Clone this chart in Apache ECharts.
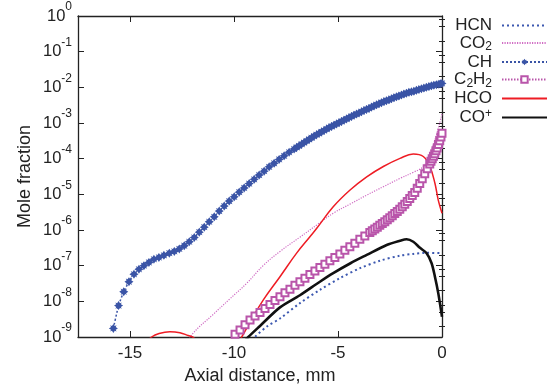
<!DOCTYPE html>
<html>
<head>
<meta charset="utf-8">
<script src="https://cdn.jsdelivr.net/npm/echarts@6/dist/echarts.min.js"></script>
<style>
html,body{margin:0;padding:0;background:#fff;}
#chart{width:548px;height:388px;}
</style>
</head>
<body>
<div id="chart"></div>
<script>
// ---------- data (x in mm, mole fraction) ----------
const seriesNames = ['HCN', 'CO2', 'CH', 'C2H2', 'HCO', 'CO+'];
const xTickValues = [-15, -10, -5, 0];

const hcnX = [-9.3, -9.0, -8.4, -7.79, -6.83, -5.87, -4.90, -3.94, -2.98, -2.02, -1.38, -0.74, 0];
const hcnY = [6.3e-10, 1.0e-9, 2.0e-9, 3.3e-9, 8.9e-9, 2.1e-8, 4.5e-8, 8.5e-8, 1.38e-7, 1.9e-7, 2.14e-7, 2.29e-7, 2.24e-7];

const co2X = [-12.3, -12.03, -11.0, -10.2, -9.39, -8.6, -7.79, -6.83, -6.0, -5.23, -4.4, -3.62, -2.8, -2.02, -1.4, -0.9, -0.6, -0.3, 0];
const co2Y = [5.0e-10, 1.15e-9, 4.3e-9, 1.17e-8, 3.2e-8, 1.0e-7, 2.5e-7, 6.3e-7, 1.41e-6, 2.95e-6, 5.4e-6, 9.5e-6, 1.66e-5, 2.8e-5, 4.1e-5, 6.0e-5, 1.26e-4, 4.0e-4, 1.78e-3];

const chX = [-15.80, -15.55, -15.30, -15.05, -14.81, -14.57, -14.33, -14.09, -13.85, -13.61, -13.37, -13.11,
  -12.87, -12.63, -12.39, -12.15, -11.91, -11.67, -11.43, -11.19, -10.95, -10.71, -10.47, -10.23,
  -9.99, -9.75, -9.51, -9.27, -9.03, -8.79, -8.55, -8.31, -8.07, -7.83, -7.59, -7.35,
  -7.11, -6.87, -6.63, -6.39, -6.15, -5.91, -5.67, -5.43, -5.19, -4.95, -4.71, -4.47, -4.23, -3.99,
  -3.75, -3.51, -3.27, -3.03, -2.79, -2.55, -2.31, -2.07, -1.83, -1.59, -1.35, -1.11, -0.87, -0.63,
  -0.39, -0.15, 0];
const chY = [1.74e-9, 7.6e-9, 1.86e-8, 3.55e-8, 5.75e-8, 7.94e-8, 1.0e-7, 1.23e-7, 1.51e-7, 1.70e-7, 1.95e-7, 2.24e-7,
  2.51e-7, 2.95e-7, 3.63e-7, 4.68e-7, 6.17e-7, 8.71e-7, 1.20e-6, 1.70e-6, 2.34e-6, 3.39e-6, 4.68e-6, 6.46e-6,
  8.51e-6, 1.15e-5, 1.51e-5, 2.0e-5, 2.63e-5, 3.47e-5, 4.47e-5, 5.89e-5, 7.41e-5, 9.55e-5, 1.20e-4, 1.51e-4,
  1.86e-4, 2.29e-4, 2.82e-4, 3.47e-4, 4.27e-4, 5.13e-4, 6.17e-4, 7.41e-4, 8.71e-4, 1.02e-3, 1.20e-3, 1.41e-3, 1.66e-3, 1.91e-3,
  2.24e-3, 2.57e-3, 3.02e-3, 3.47e-3, 3.98e-3, 4.47e-3, 5.13e-3, 5.75e-3, 6.46e-3, 7.24e-3, 7.76e-3, 8.71e-3, 9.55e-3, 1.05e-2,
  1.15e-2, 1.23e-2, 1.29e-2];
// denser grid points of CH near the burner (x > -7.2 mm)
const chDenseX = [-6.99, -6.75, -6.51, -6.27, -6.03, -5.79, -5.55, -5.31, -5.07, -4.83, -4.59, -4.35, -4.11, -3.87,
  -3.63, -3.39, -3.15, -2.91, -2.67, -2.43, -2.19, -1.95, -1.71, -1.47, -1.23, -0.99, -0.75, -0.51, -0.27, -0.07];
const chDenseY = [2.07e-4, 2.54e-4, 3.13e-4, 3.85e-4, 4.68e-4, 5.62e-4, 6.76e-4, 8.04e-4, 9.44e-4, 1.11e-3, 1.30e-3,
  1.53e-3, 1.78e-3, 2.07e-3, 2.40e-3, 2.79e-3, 3.24e-3, 3.72e-3, 4.22e-3, 4.79e-3, 5.43e-3, 6.10e-3, 6.84e-3,
  7.50e-3, 8.22e-3, 9.12e-3, 1.0e-2, 1.10e-2, 1.19e-2, 1.26e-2];

const c2h2X = [-9.95, -9.71, -9.47, -9.23, -8.99, -8.75, -8.51, -8.27, -8.03, -7.79, -7.55, -7.31, -7.07, -6.83,
  -6.59, -6.35, -6.11, -5.87, -5.63, -5.39, -5.15, -4.91, -4.67, -4.43, -4.19, -3.95, -3.71, -3.47, -3.23,
  -2.99, -2.75, -2.51, -2.27, -2.03, -1.79, -1.55, -1.31, -1.07, -0.83, -0.59, -0.47, -0.35, -0.23, -0.11, 0];
const c2h2Y = [1.20e-9, 1.58e-9, 2.19e-9, 3.02e-9, 3.89e-9, 4.90e-9, 6.31e-9, 8.13e-9, 1.05e-8, 1.35e-8, 1.74e-8, 2.19e-8,
  2.82e-8, 3.55e-8, 4.47e-8, 5.62e-8, 7.08e-8, 8.91e-8, 1.10e-7, 1.38e-7, 1.70e-7, 2.14e-7, 2.69e-7, 3.39e-7,
  4.27e-7, 5.50e-7, 6.76e-7, 8.51e-7, 1.07e-6, 1.35e-6, 1.70e-6, 2.19e-6, 2.88e-6, 3.80e-6, 5.25e-6, 7.59e-6,
  1.12e-5, 2.0e-5, 3.80e-5, 7.08e-5, 1.0e-4, 1.38e-4, 2.0e-4, 3.16e-4, 5.13e-4];
// denser grid points of C2H2 near the burner
const c2h2DenseX = [-3.35, -3.11, -2.87, -2.63, -2.39, -2.15, -1.91, -1.67, -1.43, -1.19, -0.95, -0.71, -0.53, -0.41, -0.29, -0.17, -0.05];
const c2h2DenseY = [9.55e-7, 1.20e-6, 1.51e-6, 1.93e-6, 2.51e-6, 3.31e-6, 4.47e-6, 6.31e-6, 9.23e-6, 1.48e-5, 2.75e-5,
  5.25e-5, 8.41e-5, 1.17e-4, 1.66e-4, 2.51e-4, 4.07e-4];

const hcoX = [-14.3, -13.96, -13.6, -13.08, -12.6, -12.2, -11.99, -11.7, -11.0, -10.3, -9.9, -9.63, -9.2, -8.59, -7.79,
  -6.99, -6.35, -6.03, -5.23, -4.42, -3.62, -2.82, -2.02, -1.38, -0.90, -0.58, -0.34, -0.18, 0];
const hcoY = [6.3e-10, 1.0e-9, 1.26e-9, 1.41e-9, 1.32e-9, 1.10e-9, 1.0e-9, 7.1e-10, 3.2e-10, 3.2e-10, 6.3e-10, 1.0e-9, 2.8e-9,
  1.10e-8, 4.9e-8, 2.24e-7, 6.46e-7, 1.10e-6, 4.47e-6, 1.32e-5, 3.09e-5, 6.03e-5, 1.02e-4, 1.35e-4, 1.15e-4, 6.03e-5,
  2.04e-5, 6.9e-6, 2.95e-6];

const coPlusX = [-9.6, -9.31, -8.75, -7.79, -6.83, -5.87, -5.23, -4.4, -3.62, -2.66, -2.02, -1.70, -1.38, -1.06, -0.74,
  -0.50, -0.34, -0.18, 0];
const coPlusY = [6.3e-10, 1.0e-9, 2.04e-9, 6.76e-9, 1.48e-8, 3.55e-8, 6.17e-8, 1.17e-7, 2.0e-7, 3.8e-7, 5.0e-7, 5.5e-7,
  4.68e-7, 3.16e-7, 2.24e-7, 1.17e-7, 4.9e-8, 1.7e-8, 3.7e-9];

// ---------- helpers ----------
function pairs(xs, ys) { return xs.map((x, i) => [x, ys[i]]); }
function merged(xa, ya, xb, yb) { return pairs(xa, ya).concat(pairs(xb, yb)).sort((a, b) => a[0] - b[0]); }
const FONT = "'Liberation Sans', Arial, Helvetica, sans-serif";
const AX = '#222';

const minorTicks = [];
for (let n = -9; n < 0; n++) {
  [2, 5, 8].forEach(m => minorTicks.push(n + Math.log10(m)));
}

const starPath = 'path://M0,-10 L3.2,-5.2 L7.1,-7.1 L5.2,-3.2 L10,0 L5.2,3.2 L7.1,7.1 L3.2,5.2 L0,10 L-3.2,5.2 L-7.1,7.1 L-5.2,3.2 L-10,0 L-5.2,-3.2 L-7.1,-7.1 L-3.2,-5.2 Z';

const legendLabels = {
  'HCN': '{n|HCN}',
  'CO2': '{n|CO}{sub|2}',
  'CH': '{n|CH}',
  'C2H2': '{n|C}{sub|2}{n|H}{sub|2}',
  'HCO': '{n|HCO}',
  'CO+': '{n|CO}{sup|+}'
};
const noSymbol = { color: 'rgba(0,0,0,0)', borderColor: 'rgba(0,0,0,0)', opacity: 0 };

const chart = echarts.init(document.getElementById('chart'), null, { renderer: 'canvas' });

const option = {
  animation: false,
  backgroundColor: '#fff',
  textStyle: { fontFamily: FONT, color: AX },
  grid: { left: 78, right: 106, top: 16, bottom: 51, containLabel: false, outerBoundsMode: 'none' },
  xAxis: [
    {
      type: 'value', position: 'bottom', min: -17.5, max: 0,
      axisLine: { show: true, onZero: false, lineStyle: { color: AX, width: 1.3 } },
      axisTick: { show: true, inside: true, length: 6, customValues: xTickValues, lineStyle: { color: AX, width: 1 } },
      axisLabel: { show: true, customValues: xTickValues, fontSize: 17, margin: 8, color: AX, fontFamily: FONT },
      splitLine: { show: false },
      name: 'Axial distance, mm', nameLocation: 'middle', nameGap: 30, nameMoveOverlap: false,
      nameTextStyle: { fontSize: 18, color: AX, fontFamily: FONT }
    },
    {
      type: 'value', position: 'top', min: -17.5, max: 0,
      axisLine: { show: true, onZero: false, lineStyle: { color: AX, width: 1.3 } },
      axisTick: { show: true, inside: true, length: 6, customValues: xTickValues, lineStyle: { color: AX, width: 1 } },
      axisLabel: { show: false },
      splitLine: { show: false }
    }
  ],
  yAxis: [
    {
      type: 'log', logBase: 10, min: 1e-9, max: 1, interval: 1, position: 'left',
      axisLine: { show: true, onZero: false, lineStyle: { color: AX, width: 1.3 } },
      axisTick: { show: true, inside: true, length: 6, lineStyle: { color: AX, width: 1 } },
      axisLabel: {
        show: true, margin: 6, color: AX, fontFamily: FONT,
        formatter: function (v) {
          const e = Math.round(Math.log10(v));
          return '{b|10}{s|' + e + '}';
        },
        rich: {
          b: { fontSize: 16.5, lineHeight: 30, fontFamily: FONT, color: AX },
          s: { fontSize: 12, lineHeight: 12, verticalAlign: 'top', fontFamily: FONT, color: AX }
        }
      },
      splitLine: { show: false },
      minorTick: { show: false },
      name: 'Mole fraction', nameLocation: 'middle', nameGap: 44, nameMoveOverlap: false,
      nameTextStyle: { fontSize: 18, color: AX, fontFamily: FONT }
    },
    {
      type: 'log', logBase: 10, min: 1e-9, max: 1, interval: 1, position: 'right',
      axisLine: { show: true, onZero: false, lineStyle: { color: AX, width: 1.3 } },
      axisTick: { show: true, inside: true, length: 6, lineStyle: { color: AX, width: 1 } },
      axisLabel: { show: false },
      splitLine: { show: false }
    },
    {
      type: 'value', min: -9, max: 0, position: 'left',
      axisLine: { show: false },
      axisTick: { show: true, inside: true, length: 3, customValues: minorTicks, lineStyle: { color: AX, width: 1 } },
      axisLabel: { show: false },
      splitLine: { show: false }
    },
    {
      type: 'value', min: -9, max: 0, position: 'right',
      axisLine: { show: false },
      axisTick: { show: true, inside: true, length: 3, customValues: minorTicks, lineStyle: { color: AX, width: 1 } },
      axisLabel: { show: false },
      splitLine: { show: false }
    }
  ],
  legend: {
    orient: 'vertical', right: 0, top: 17, align: 'right',
    itemWidth: 45, itemHeight: 8, itemGap: 0.5, padding: 0,
    data: [
      { name: 'HCN', itemStyle: noSymbol },
      { name: 'CO2', itemStyle: noSymbol },
      { name: 'CH' },
      { name: 'C2H2' },
      { name: 'HCO', itemStyle: noSymbol },
      { name: 'CO+', itemStyle: noSymbol }
    ],
    formatter: function (name) { return legendLabels[name]; },
    textStyle: {
      fontFamily: FONT, color: AX, padding: [0, 5, 0, 0],
      rich: {
        n: { fontSize: 17, lineHeight: 20, fontFamily: FONT, color: AX },
        sub: { fontSize: 12, lineHeight: 10, verticalAlign: 'bottom', fontFamily: FONT, color: AX },
        sup: { fontSize: 12, lineHeight: 10, verticalAlign: 'top', fontFamily: FONT, color: AX }
      }
    }
  },
  series: [
    {
      name: 'HCN', type: 'line', xAxisIndex: 0, yAxisIndex: 0,
      data: pairs(hcnX, hcnY), smooth: 0.3, showSymbol: false, symbol: 'none',
      lineStyle: { color: '#3c58b0', width: 2, type: [2, 3] },
      itemStyle: { color: '#3c58b0' }
    },
    {
      name: 'CO2', type: 'line', xAxisIndex: 0, yAxisIndex: 0,
      data: pairs(co2X, co2Y), smooth: 0.4, showSymbol: false, symbol: 'none',
      lineStyle: { color: '#d06cc4', width: 1.2, type: [1.2, 1.3] },
      itemStyle: { color: '#d06cc4' }
    },
    {
      name: 'CH', type: 'line', xAxisIndex: 0, yAxisIndex: 0,
      data: merged(chX, chY, chDenseX, chDenseY), smooth: 0.2, showSymbol: true, showAllSymbol: true,
      symbol: starPath, symbolSize: 9,
      lineStyle: { color: '#3a54a6', width: 1.5, type: [2, 2] },
      itemStyle: { color: '#3a54a6' }
    },
    {
      name: 'C2H2', type: 'line', xAxisIndex: 0, yAxisIndex: 0,
      data: merged(c2h2X, c2h2Y, c2h2DenseX, c2h2DenseY), smooth: 0.2, showSymbol: true, showAllSymbol: true,
      symbol: 'emptyRect', symbolSize: 7,
      lineStyle: { color: '#b955aa', width: 1.2, type: [1.5, 1.5] },
      itemStyle: { color: '#b955aa', borderColor: '#b955aa', borderWidth: 1.7 }
    },
    {
      name: 'HCO', type: 'line', xAxisIndex: 0, yAxisIndex: 0,
      data: pairs(hcoX, hcoY), smooth: 0.4, showSymbol: false, symbol: 'none',
      lineStyle: { color: '#ee1c24', width: 1.5 },
      itemStyle: { color: '#ee1c24' }
    },
    {
      name: 'CO+', type: 'line', xAxisIndex: 0, yAxisIndex: 0,
      data: pairs(coPlusX, coPlusY), smooth: 0.3, showSymbol: false, symbol: 'none',
      lineStyle: { color: '#111111', width: 2.6 },
      itemStyle: { color: '#111111' }
    }
  ]
};

chart.setOption(option);
</script>
</body>
</html>
